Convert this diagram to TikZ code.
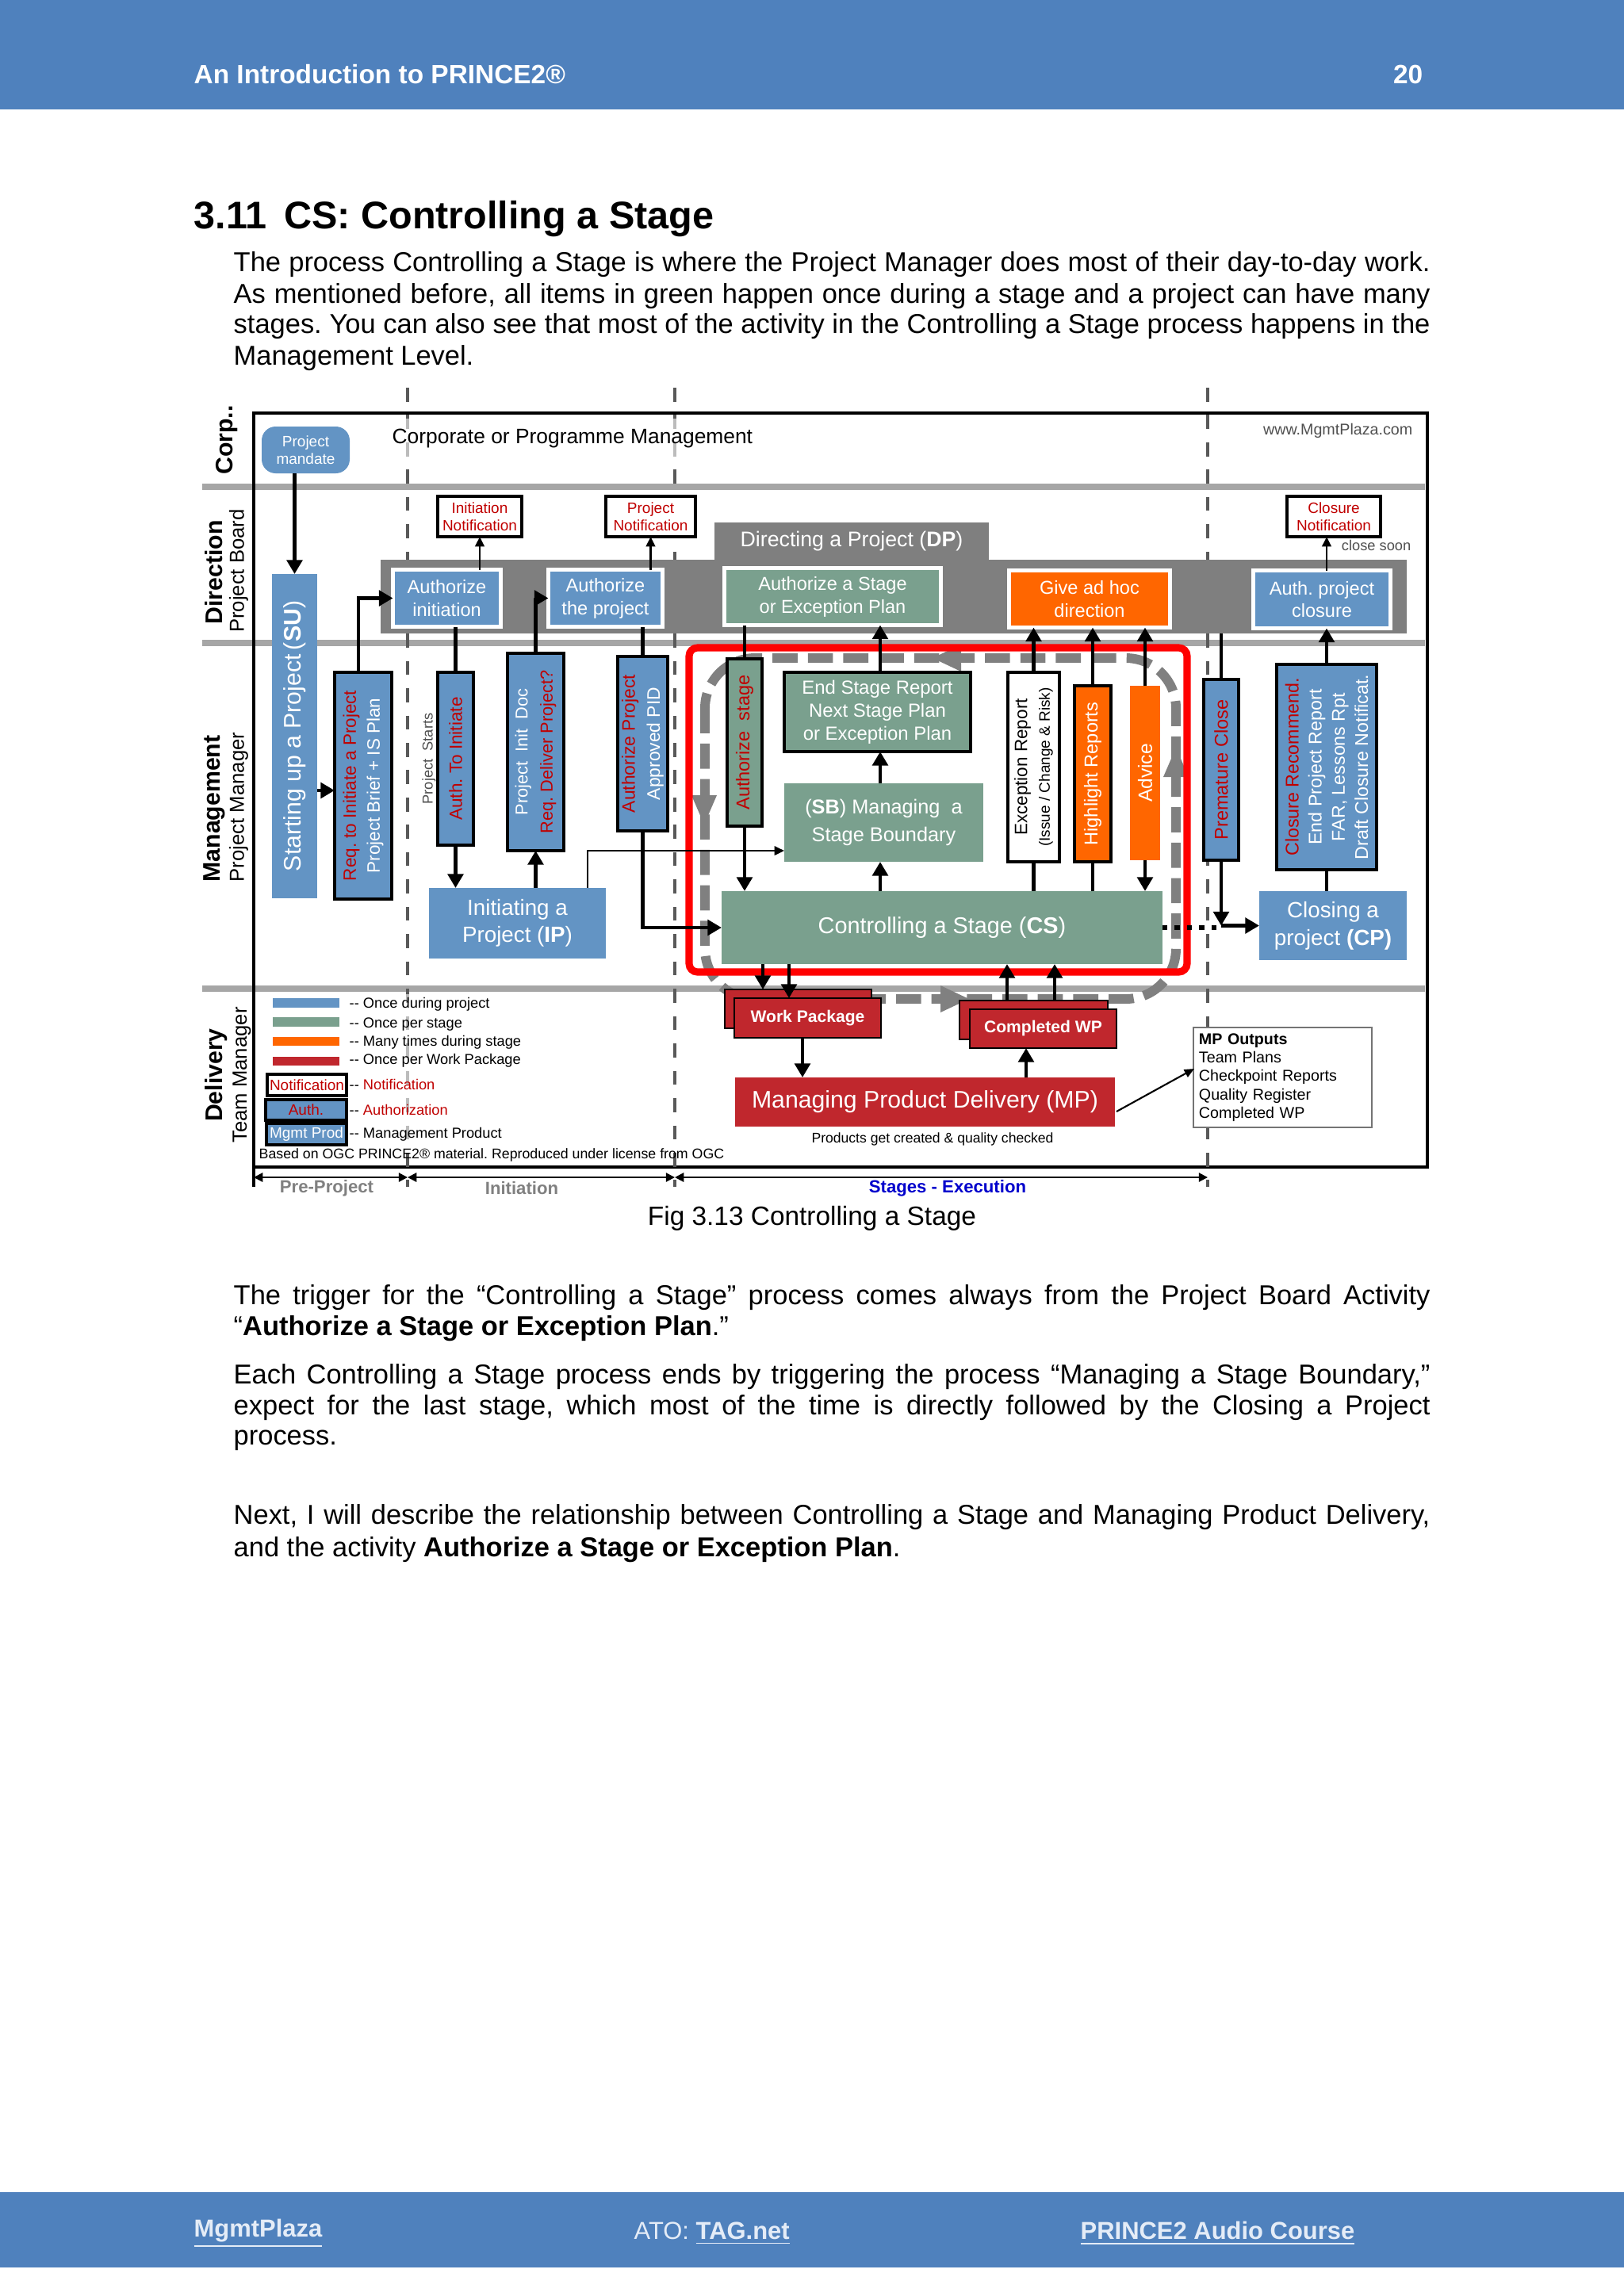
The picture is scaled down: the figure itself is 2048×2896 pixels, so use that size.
\documentclass[tikz,border=0pt]{standalone}
\usepackage{fontspec}
\setmainfont{Liberation Sans}
\usetikzlibrary{arrows.meta}
\frenchspacing
\definecolor{hdrblue}{RGB}{79,129,189}
\definecolor{pblue}{RGB}{99,148,196}
\definecolor{pgreen}{RGB}{122,160,142}
\definecolor{porange}{RGB}{255,102,0}
\definecolor{pred}{RGB}{192,39,45}
\definecolor{nred}{RGB}{192,0,0}
\definecolor{dpgray}{RGB}{127,127,127}
\definecolor{lanegray}{RGB}{166,166,166}
\definecolor{dashgray}{RGB}{89,89,89}
\definecolor{loopgray}{RGB}{128,128,128}
\definecolor{foottext}{RGB}{228,236,247}
\definecolor{stageblue}{RGB}{0,0,204}
\definecolor{txtgray}{RGB}{80,80,80}
\newcommand\myfs[2]{\fontsize{#1pt}{#2pt}\selectfont}
\newcommand\bxn[7]{\node[#6, minimum width={(#4-#2)*0.01cm}, minimum height={(#5-#3)*0.01cm}] (#1) at ({(#2+#4)/2},{(#3+#5)/2}) {#7};}
\newcommand\vt[3]{\node[vtext,#2] (#1-t) at (#1) {#3};}
\tikzset{
  base/.style={inner sep=0pt, outer sep=0pt, align=center, text=white},
  bluebox/.style={base, fill=pblue},
  greenbox/.style={base, fill=pgreen},
  orangebox/.style={base, fill=porange},
  redbox/.style={base, fill=pred},
  dpbox/.style={draw=white, line width=1.42pt, font=\myfs{6.7}{8.2}},
  vbox/.style={draw=black, line width=0.9pt},
  notif/.style={base, fill=white, draw=black, line width=0.9pt, text=nred, font=\myfs{5.4}{6.2}},
  vtext/.style={rotate=90, align=center, inner sep=0pt},
  fat/.style={line width=1.4pt, -{Triangle[length=5pt,width=5.5pt]}},
  fatline/.style={line width=1.4pt},
  thinarr/.style={line width=0.8pt, -{Triangle[length=3.5pt,width=3.2pt]}},
  tl/.style={line width=0.6pt, {Triangle[length=3.2pt,width=3.2pt]}-{Triangle[length=3.2pt,width=3.2pt]}},
  jline/.style={anchor=west, inner sep=0pt, text width=15.08cm, align=justify, font=\myfs{9.8}{11.8}},
  lline/.style={anchor=west, inner sep=0pt, font=\myfs{9.8}{11.8}},
  lab/.style={inner sep=0pt, anchor=west, font=\myfs{5.2}{6.5}},
  lanebold/.style={vtext, font=\bfseries\myfs{8.6}{10}},
  lanereg/.style={vtext, font=\myfs{7.3}{9}},
}
\newcommand\jl[3]{\node[jline] (#1) at (294,#2) {\noindent\parfillskip=0pt #3\par};}
\begin{document}
\begin{tikzpicture}[x=0.01cm,y=-0.01cm]
\useasboundingbox (0,0) rectangle (2048,2896);
\fill[white] (0,0) rectangle (2048,2896);
% header and footer bars
\fill[hdrblue] (0,0) rectangle (2048,138);
\fill[hdrblue] (0,2765) rectangle (2048,2860);
\node[anchor=west, inner sep=0pt, text=white, font=\bfseries\myfs{9.5}{11}] (htitle) at (244,94) {An Introduction to PRINCE2®};
\node[anchor=east, inner sep=0pt, text=white, font=\bfseries\myfs{9.5}{11}] (hpage) at (1795,94) {20};
\node[anchor=west, inner sep=0pt, text=foottext, font=\bfseries\myfs{8.8}{10}] (f1) at (244,2817) {\underline{MgmtPlaza}};
\node[anchor=west, inner sep=0pt, text=foottext, font=\myfs{8.8}{10}] (f2) at (799,2817) {ATO: \textbf{\underline{TAG.net}}};
\node[anchor=west, inner sep=0pt, text=foottext, font=\bfseries\myfs{8.8}{10}] (f3) at (1362,2817) {\underline{PRINCE2 Audio Course}};
% title and text
\node[anchor=west, inner sep=0pt, font=\bfseries\myfs{13.8}{16}] (title) at (244,276) {3.11\hspace{0.45em}CS: Controlling a Stage};
\jl{p1a}{334}{The process Controlling a Stage is where the Project Manager does most of their day-to-day work.}
\jl{p1b}{374}{As mentioned before, all items in green happen once during a stage and a project can have many}
\jl{p1c}{412}{stages. You can also see that most of the activity in the Controlling a Stage process happens in the}
\node[lline] (p1d) at (294,452) {Management Level.};
\jl{p2a}{1637}{The trigger for the “Controlling a Stage” process comes always from the Project Board Activity}
\node[lline] (p2b) at (294,1676) {“\textbf{Authorize a Stage or Exception Plan}.”};
\jl{p3a}{1737}{Each Controlling a Stage process ends by triggering the process “Managing a Stage Boundary,”}
\jl{p3b}{1776}{expect for the last stage, which most of the time is directly followed by the Closing a Project}
\node[lline] (p3c) at (294,1817) {process.};
\jl{p4a}{1914}{Next, I will describe the relationship between Controlling a Stage and Managing Product Delivery,}
\node[lline] (p4b) at (294,1955) {and the activity \textbf{Authorize a Stage or Exception Plan}.};
\node[inner sep=0pt, font=\myfs{9.5}{11}] (caption) at (1024,1537) {Fig 3.13 Controlling a Stage};

% lanes and frame
\foreach \yy in {614,811,1247} \draw[lanegray, line width=2.3pt] (255,\yy) -- (1797,\yy);
\draw[line width=1.4pt] (320,521) rectangle (1800,1472);
\foreach \xx in {514,851,1523} \draw[dashgray, line width=1.1pt, dash pattern=on 5pt off 4.8pt] (\xx,489) -- (\xx,1497);
% light veils behind text areas
\fill[white, opacity=0.6] (488,528) rectangle (962,580);
\fill[white, opacity=0.6] (330,1254) rectangle (700,1447);
% lane labels
\node[lanebold] (lcorp) at (286,555) {Corp..};
\node[lanebold] (ldir) at (270,722) {Direction};
\node[lanereg] (lpb) at (301,720) {Project Board};
\node[lanebold] (lman) at (270,1020) {Management};
\node[lanereg] (lpm) at (301,1018) {Project Manager};
\node[lanebold] (ldel) at (273,1356) {Delivery};
\node[lanereg] (ltm) at (305,1356) {Team Manager};
% corporate lane texts
\node[anchor=west, inner sep=0pt, font=\myfs{7.5}{9}] (corp) at (494,553) {Corporate or Programme Management};
\node[anchor=east, inner sep=0pt, text=txtgray, font=\myfs{5.6}{7}] (www) at (1782,543) {www.MgmtPlaza.com};
\bxn{mandate}{330}{538}{441}{597}{bluebox, rounded corners=5pt, font=\myfs{5.4}{6.2}}{Project\\mandate}

% DP band
\fill[dpgray] (480,706) rectangle (1774,799);
\bxn{dptab}{901}{659}{1247}{706}{base, fill=dpgray, font=\myfs{7.6}{9}}{Directing a Project (\textbf{DP})}
\bxn{authinit}{495.5}{718.5}{631.5}{790.5}{bluebox, dpbox}{Authorize\\initiation}
\bxn{authproj}{691.5}{718.5}{835.5}{790.5}{bluebox, dpbox}{Authorize\\the project}
\bxn{dpstage}{913.5}{716.5}{1186.5}{788.5}{greenbox, dpbox}{Authorize a Stage\\or Exception Plan}
\bxn{give}{1272.5}{719.5}{1475.5}{791.5}{orangebox, dpbox}{Give ad hoc\\direction}
\bxn{authclose}{1580.5}{719.5}{1753.5}{792.5}{bluebox, dpbox}{Auth. project\\closure}
\bxn{initnot}{552}{626}{658}{677}{notif}{Initiation\\Notification}
\bxn{projnot}{764}{626}{877}{677}{notif}{Project\\Notification}
\bxn{closenot}{1623}{626}{1741}{677}{notif}{Closure\\Notification}
\node[anchor=east, inner sep=0pt, text=txtgray, font=\myfs{5.2}{6}] (closesoon) at (1780,688) {close soon};

% CS loop and highlight
\draw[loopgray, line width=3.4pt, dash pattern=on 9pt off 3.7pt, rounded corners=18pt] (889,830) rectangle (1483,1260);
\fill[loopgray] (872,1003) -- (904,1003) -- (888,1040) -- cycle;
\fill[loopgray] (1467,980) -- (1499,980) -- (1483,943) -- cycle;
\fill[loopgray] (1186,1243) -- (1186,1277) -- (1222,1260) -- cycle;
\fill[loopgray] (1212,813) -- (1212,847) -- (1176,830) -- cycle;
\draw[red, line width=2.6pt, rounded corners=3pt] (869,817) rectangle (1497,1226);

% management lane
\bxn{su}{343}{724}{400}{1133}{bluebox}{}
\vt{su}{text=white, font=\myfs{8.6}{10}}{Starting up a Project\,(\textbf{SU})}
\bxn{req}{422}{848}{494}{1134}{bluebox, vbox}{}
\vt{req}{text=white, font=\myfs{6.4}{8.5}}{\textcolor{nred}{Req. to Initiate a Project}\\Project Brief + IS Plan}
\node[vtext, text=txtgray, font=\myfs{5.2}{6}] (pstarts) at (541,957) {Project\ \ Starts};
\bxn{authto}{552}{848}{597}{1066}{bluebox, vbox}{}
\vt{authto}{text=nred, font=\myfs{6.4}{8}}{Auth. To Initiate}
\bxn{pid}{640}{824}{711}{1073}{bluebox, vbox}{}
\vt{pid}{text=white, font=\myfs{6.2}{9}}{Project\ \ Init\ \ Doc\\\textcolor{nred}{Req. Deliver Project?}}
\bxn{apid}{779}{828}{842}{1048}{bluebox, vbox}{}
\vt{apid}{text=white, font=\myfs{6.5}{9}}{\textcolor{nred}{Authorize Project}\\Approved PID}
\bxn{ip}{541}{1120}{764}{1209}{bluebox, font=\myfs{7.9}{9.6}}{Initiating a\\Project (\textbf{IP})}
\bxn{astage}{917}{831}{961}{1042}{greenbox, vbox}{}
\vt{astage}{text=nred, font=\myfs{6.7}{8}}{Authorize\ \ stage}
\bxn{endstage}{989}{848}{1224}{948}{greenbox, vbox, font=\myfs{6.8}{8.2}}{End Stage Report\\Next Stage Plan\\or Exception Plan}
\bxn{sb}{989}{988}{1240}{1087}{greenbox, font=\myfs{7.2}{10}}{(\textbf{SB}) Managing\ \ a\\Stage Boundary}
\bxn{cs}{910}{1124}{1466}{1216}{greenbox, font=\myfs{8.2}{10}}{Controlling a Stage (\textbf{CS})}
\bxn{exc}{1271}{848}{1336}{1087}{base, fill=white, vbox}{}
\vt{exc}{text=black, font=\myfs{6.4}{8.1}}{Exception Report\\{\myfs{5.4}{8.1}(Issue / Change \& Risk)}}
\bxn{hl}{1355}{865}{1401}{1087}{orangebox, vbox}{}
\vt{hl}{text=white, font=\myfs{6.7}{8}}{Highlight Reports}
\bxn{advice}{1425}{865}{1463}{1085}{orangebox}{}
\vt{advice}{text=white, font=\myfs{7}{8}}{Advice}
\bxn{prem}{1518}{857}{1562}{1085}{bluebox, vbox}{}
\vt{prem}{text=nred, font=\myfs{6.7}{8}}{Premature Close}
\bxn{closure}{1610}{838}{1736}{1097}{bluebox, vbox}{}
\vt{closure}{text=white, font=\myfs{6.6}{8.3}}{\textcolor{nred}{Closure Recommend.}\\End Project Report\\FAR, Lessons Rpt\\Draft Closure Notificat.}
\bxn{cp}{1588}{1124}{1774}{1211}{bluebox, font=\myfs{7.9}{10}}{Closing a\\project \textbf{(CP)}}

% delivery lane
\bxn{wpback}{914}{1248}{1099}{1297}{redbox, draw=black, line width=0.6pt}{}
\bxn{wp}{926}{1259}{1111}{1309}{redbox, draw=black, line width=0.6pt, font=\bfseries\myfs{6}{7}}{Work Package}
\bxn{cwpback}{1210}{1262}{1397}{1311}{redbox, draw=black, line width=0.6pt}{}
\bxn{cwp}{1223}{1273}{1408}{1322}{redbox, draw=black, line width=0.6pt, font=\bfseries\myfs{6}{7}}{Completed WP}
\bxn{mp}{927}{1359}{1406}{1421}{redbox, font=\myfs{8.6}{10}}{Managing Product Delivery (MP)}
\node[inner sep=0pt, font=\myfs{5}{6}] (mpnote) at (1176,1437) {Products get created \& quality checked};
\bxn{mpout}{1505}{1296}{1730}{1422}{base, text=black, fill=white, draw=lanegray!70!black, line width=0.8pt, text width=2.11cm, align=left, font=\myfs{5.6}{6.6}}{\textbf{MP Outputs}\\Team Plans\\Checkpoint Reports\\Quality Register\\Completed WP}

% legend
\fill[pblue] (344,1259) rectangle (428,1271);
\fill[pgreen] (344,1283) rectangle (428,1295);
\fill[porange] (344,1308) rectangle (428,1319);
\fill[pred] (344,1333) rectangle (428,1344);
\node[lab] (lg1) at (440,1267) {-{}- Once during project};
\node[lab] (lg2) at (440,1292) {-{}- Once per stage};
\node[lab] (lg3) at (440,1315) {-{}- Many times during stage};
\node[lab] (lg4) at (440,1338) {-{}- Once per Work Package};
\bxn{lgn}{337}{1355}{437}{1382}{notif, line width=1pt}{Notification}
\bxn{lga}{335}{1387}{437}{1413}{bluebox, draw=black, line width=1pt, text=nred, font=\myfs{5.4}{6.2}}{Auth.}
\bxn{lgm}{336}{1417}{437}{1444}{bluebox, draw=black, line width=1pt, font=\myfs{5.4}{6.2}}{Mgmt Prod}
\node[lab] (lg5) at (440,1368) {-{}- \textcolor{nred}{Notification}};
\node[lab] (lg6) at (440,1400) {-{}- \textcolor{nred}{Authorization}};
\node[lab] (lg7) at (440,1431) {-{}- Management Product};
\node[lab, font=\myfs{5.05}{6.5}] (based) at (326,1457) {Based on OGC PRINCE2® material. Reproduced under license from OGC};

% timeline
\coordinate (t0) at (320,1485);
\coordinate (t1) at (514,1485);
\coordinate (t2) at (851,1485);
\coordinate (t3) at (1523,1485);
\draw[line width=1.2pt] (320,1472) -- (320,1497);
\draw[tl] (t0) -- (t1);
\draw[tl] (t1) -- (t2);
\draw[tl] (t2) -- (t3);
\node[inner sep=0pt, text=loopgray, font=\bfseries\myfs{6.3}{7}] (tpre) at (412,1499) {Pre-Project};
\node[inner sep=0pt, text=loopgray, font=\bfseries\myfs{6.3}{7}] (tini) at (658,1499) {Initiation};
\node[inner sep=0pt, text=stageblue, font=\bfseries\myfs{6.3}{7}] (tstg) at (1195,1499) {Stages - Execution};

% connectors
\draw[fat] (mandate.south -| su.north) -- (su.north);
\coordinate (yreq) at (0,997);
\draw[fat] (su.east |- yreq) -- (req.west |- yreq);
\coordinate (xreq) at (452,0);
\draw[fat] (xreq |- req.north) |- (authinit.west);
\draw[fatline] (authinit.south -| authto.north) -- (authto.north);
\draw[fat] (authto.south) -- (authto.south |- ip.north);
\draw[fat] (pid.south |- ip.north) -- (pid.south);
\draw[fat] (pid.north) |- (authproj.west);
\draw[fatline] (authproj.south -| apid.north) -- (apid.north);
\draw[fat] (apid.south) |- (cs.west);
\coordinate (ipsb) at (741,1073);
\draw[line width=0.7pt, -{Triangle[length=3.5pt,width=3.2pt]}] (ipsb |- ip.north) -- (ipsb) -- (ipsb -| sb.west);
\draw[thinarr] (authinit.north -| initnot.south) -- (initnot.south);
\draw[thinarr] (authproj.north -| projnot.south) -- (projnot.south);
\draw[thinarr] (closure.north |- authclose.north) -- (closure.north |- closenot.south);
\draw[fatline] (dpstage.south -| astage.north) -- (astage.north);
\draw[fat] (astage.south) -- (astage.south |- cs.north);
\coordinate (xsb) at (1110,0);
\draw[fat] (xsb |- endstage.north) -- (xsb |- dpstage.south);
\draw[fat] (xsb |- sb.north) -- (xsb |- endstage.south);
\draw[fat] (xsb |- cs.north) -- (xsb |- sb.south);
\draw[fatline] (exc.south |- cs.north) -- (exc.south);
\draw[fat] (exc.north) -- (exc.north |- give.south);
\draw[fatline] (hl.south |- cs.north) -- (hl.south);
\draw[fat] (hl.north) -- (hl.north |- give.south);
\draw[fat] (advice.north) -- (advice.north |- give.south);
\draw[fat] (advice.south) -- (advice.south |- cs.north);
\coordinate (premtop) at (1540,799);
\draw[fatline] (premtop) -- (prem.north);
\draw[fat] (prem.south) -- (prem.south |- cp.west);
\draw[line width=1.8pt, dash pattern=on 1.8pt off 2.6pt] (cs.east) -- (cs.east -| prem.south);
\draw[fat] (prem.south |- cp.west) -- (cp.west);
\draw[fat] (closure.north) -- (closure.north |- authclose.south);
\draw[fatline] (closure.south) -- (closure.south |- cp.north);
\coordinate (xw1) at (962,0);
\coordinate (xw2) at (995,0);
\coordinate (xw3) at (1012,0);
\draw[fat] (xw1 |- cs.south) -- (xw1 |- wpback.north);
\draw[fat] (xw2 |- cs.south) -- (xw2 |- wp.north);
\draw[fat] (xw3 |- wp.south) -- (xw3 |- mp.north);
\coordinate (xc1) at (1270,0);
\coordinate (xc2) at (1330,0);
\coordinate (xc3) at (1294,0);
\draw[fat] (xc3 |- mp.north) -- (xc3 |- cwp.south);
\draw[fat] (xc1 |- cwpback.north) -- (xc1 |- cs.south);
\draw[fat] (xc2 |- cwpback.north) -- (xc2 |- cs.south);
\coordinate (mpe) at (1408,1402);
\coordinate (mpo) at (1506,1348);
\draw[line width=0.6pt, -{Triangle[length=3.5pt,width=3pt]}] (mpe) -- (mpo);
\end{tikzpicture}
\end{document}
